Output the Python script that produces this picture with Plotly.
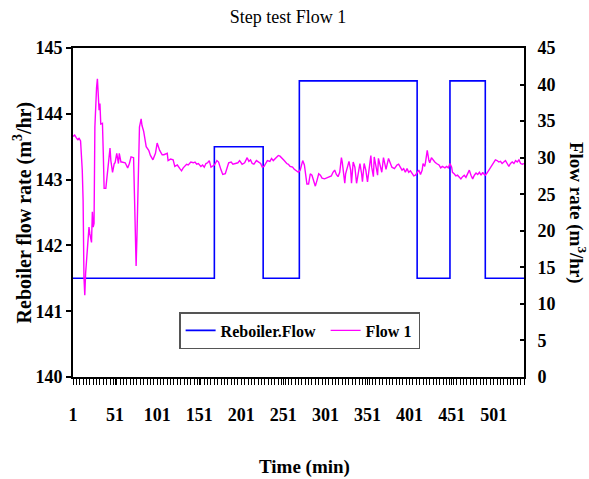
import plotly.graph_objects as go

# ---- data ----
# Reboiler.Flow step changes (time in min, level in m3/hr), left axis
reb_time = [1, 169, 227, 270, 410, 449, 491, 537]
reb_flow = [141.5, 143.5, 141.5, 144.5, 141.5, 144.5, 141.5, 141.5]

# Flow 1 (m3/hr), right axis
f1_time = [1, 3, 5, 7, 8, 10, 12, 13, 14, 15, 16, 18, 20, 21, 23, 24, 25, 26, 27, 29,
           30, 32, 33, 34, 36, 37, 38, 40, 42, 44, 45, 46, 48, 50, 51, 53, 55, 56, 58, 59,
           63, 66, 68, 70, 73, 74, 75, 76, 77, 79, 80, 82, 83, 85, 88, 91, 93, 96, 99, 101,
           104, 107, 109, 113, 114, 117, 120, 122, 125, 128, 130, 132, 136, 138, 141, 144, 146, 148, 150, 153,
           155, 157, 159, 161, 163, 165, 167, 169, 172, 174, 177, 179, 182, 184, 186, 189, 191, 194, 197, 199,
           202, 205, 208, 210, 212, 214, 216, 219, 222, 224, 226, 228, 230, 232, 235, 237, 239, 243, 245, 247,
           250, 252, 255, 257, 259, 262, 264, 266, 269, 271, 273, 274, 276, 278, 279, 281, 283, 285, 287, 289,
           291, 293, 295, 297, 300, 302, 305, 308, 310, 312, 314, 316, 318, 320, 321, 322, 324, 325, 327, 329,
           331, 332, 334, 336, 338, 340, 342, 344, 345, 347, 349, 351, 353, 355, 356, 358, 359, 361, 363, 364,
           366, 368, 370, 372, 373, 376, 378, 380, 383, 386, 388, 390, 392, 394, 396, 398, 400, 402, 404, 406,
           408, 410, 412, 414, 416, 417, 419, 420, 422, 424, 425, 427, 429, 431, 433, 436, 438, 440, 443, 445,
           447, 449, 451, 452, 454, 456, 458, 460, 462, 464, 466, 468, 470, 472, 474, 476, 478, 480, 482, 484,
           486, 488, 489, 491, 493, 495, 497, 499, 501, 503, 505, 507, 509, 511, 513, 515, 517, 519, 521, 523,
           525, 527, 529, 531, 533, 535, 537]
f1_flow = [32.9, 33.1, 32.7, 32.4, 32.7, 32.3, 28.3, 24.2, 13.7, 11.2, 14.2, 17.1, 20.5, 19.6, 18.4, 22.6, 20.5, 21.0, 34.2, 39.6,
           40.8, 36.5, 37.4, 34.6, 34.7, 30.6, 25.8, 25.8, 28.3, 31.0, 31.3, 29.6, 28.0, 29.2, 29.3, 30.6, 29.2, 30.6, 29.4, 29.4,
           29.3, 28.6, 29.2, 30.1, 30.0, 25.1, 19.6, 15.2, 19.2, 29.6, 34.2, 35.3, 34.4, 33.6, 31.5, 31.0, 30.3, 29.7, 30.6, 32.0,
           31.0, 30.4, 30.4, 30.6, 29.6, 29.8, 29.7, 28.8, 29.0, 28.5, 28.2, 28.6, 29.1, 29.0, 29.4, 29.3, 29.4, 29.1, 29.2, 28.8,
           29.0, 28.7, 29.2, 29.3, 29.6, 28.7, 28.8, 29.0, 29.6, 29.4, 28.3, 27.7, 27.8, 28.5, 29.3, 29.4, 29.1, 29.2, 29.3, 29.6,
           29.1, 29.3, 30.0, 29.5, 29.7, 29.2, 29.1, 29.6, 29.3, 29.2, 28.7, 28.8, 29.2, 29.6, 29.5, 29.9, 29.6, 30.0, 30.3, 30.2,
           29.9, 29.6, 29.2, 29.1, 28.8, 28.7, 28.4, 28.2, 28.0, 28.3, 29.1, 29.6, 29.0, 27.6, 26.4, 26.4, 27.8, 27.6, 26.9, 26.1,
           26.9, 27.8, 27.6, 27.2, 27.1, 27.2, 27.4, 27.5, 28.0, 28.3, 27.7, 27.4, 28.0, 30.0, 29.4, 28.3, 26.5, 27.8, 28.7, 29.5,
           28.3, 26.5, 29.4, 28.7, 26.5, 28.0, 29.2, 27.8, 26.7, 29.2, 28.3, 26.7, 28.5, 30.3, 28.7, 27.4, 30.1, 28.7, 27.6, 29.9,
           28.7, 28.0, 30.0, 29.0, 28.4, 29.9, 29.2, 28.7, 28.5, 29.0, 29.1, 28.7, 28.3, 28.5, 28.0, 28.5, 28.0, 28.2, 27.8, 27.5,
           27.6, 28.0, 28.3, 27.7, 28.3, 29.2, 28.8, 29.4, 31.0, 29.6, 29.3, 30.0, 29.6, 29.4, 29.2, 29.0, 28.6, 28.8, 28.6, 28.8,
           28.6, 29.2, 28.7, 28.0, 27.8, 27.5, 27.6, 27.3, 27.1, 27.4, 27.6, 27.3, 27.8, 28.3, 27.6, 27.1, 27.6, 27.9, 27.7, 28.0,
           27.6, 28.0, 27.8, 27.6, 27.9, 28.3, 28.6, 29.1, 29.5, 29.7, 29.6, 29.4, 29.5, 29.2, 29.4, 29.6, 29.2, 28.8, 29.2, 29.4,
           29.2, 29.6, 29.4, 29.7, 29.2, 29.1, 29.2]

x_tick_vals = [1, 51, 101, 151, 201, 251, 301, 351, 401, 451, 501]
x_tick_text = [str(v) for v in x_tick_vals]

FONT = "Liberation Serif"

fig = go.Figure()
fig.add_trace(go.Scatter(x=reb_time, y=reb_flow, mode="lines", name="<b>Reboiler.Flow</b>",
                         line=dict(color="#0000FF", width=1.6, shape="hv"), yaxis="y",
                         legendwidth=100))
fig.add_trace(go.Scatter(x=f1_time, y=f1_flow, mode="lines", name="<b>Flow 1</b>",
                         line=dict(color="#FF00FF", width=1.4), yaxis="y2",
                         legendwidth=48))

fig.update_layout(
    width=589, height=479,
    margin=dict(l=73, r=65, t=48, b=102),
    paper_bgcolor="white", plot_bgcolor="white",
    font=dict(family=FONT, color="black"),
    showlegend=True,
    title=dict(text="Step test Flow 1", x=288/589, xanchor="center",
               yref="container", y=1-17/479, yanchor="middle",
               font=dict(family=FONT, size=18, color="black")),
    xaxis=dict(range=[1, 537], tickmode="array", tickvals=x_tick_vals, ticktext=x_tick_text,
               ticks="outside", ticklen=6, tickwidth=1, tickcolor="black",
               minor=dict(dtick=4, tick0=1, ticks="outside", ticklen=6, tickwidth=1, tickcolor="black"),
               showline=True, linecolor="black", linewidth=2, mirror=True,
               showgrid=False, zeroline=False, ticklabelstandoff=14,
               tickfont=dict(family=FONT, size=18, color="black", weight="bold")),
    yaxis=dict(range=[140, 145], dtick=1, ticks="outside", ticklen=5, tickwidth=1.5, tickcolor="black",
               showline=True, linecolor="black", linewidth=2, showgrid=False, zeroline=False,
               tickfont=dict(family=FONT, size=18, color="black", weight="bold")),
    yaxis2=dict(range=[0, 45], dtick=5, overlaying="y", side="right", anchor="x",
                ticks="inside", ticklen=4, tickwidth=1.5, tickcolor="black",
                showline=True, linecolor="black", linewidth=2, showgrid=False, zeroline=False,
                ticklabelstandoff=8,
                tickfont=dict(family=FONT, size=18, color="black", weight="bold")),
    legend=dict(orientation="h", x=(179-73)/450.5, y=(377-312)/329, xanchor="left", yanchor="top",
                bgcolor="white", bordercolor="#555555", borderwidth=1.5,
                font=dict(family=FONT, size=16, color="black")),
    annotations=[
        dict(text="<b>Reboiler flow rate (m<sup>3</sup>/hr)</b>", textangle=-90,
             xref="paper", yref="paper", x=(23-73)/450.5, y=0.5, xanchor="center", yanchor="middle",
             showarrow=False, font=dict(family=FONT, size=20, color="black")),
        dict(text="<b>Flow rate (m<sup>3</sup>/hr)</b>", textangle=90,
             xref="paper", yref="paper", x=(577-73)/450.5, y=0.5, xanchor="center", yanchor="middle",
             showarrow=False, font=dict(family=FONT, size=19, color="black")),
        dict(text="<b>Time (min)</b>",
             xref="paper", yref="paper", x=(304-73)/450.5, y=(377-467)/329, xanchor="center", yanchor="middle",
             showarrow=False, font=dict(family=FONT, size=19, color="black")),
    ],
)

fig.write_html("out.html")
